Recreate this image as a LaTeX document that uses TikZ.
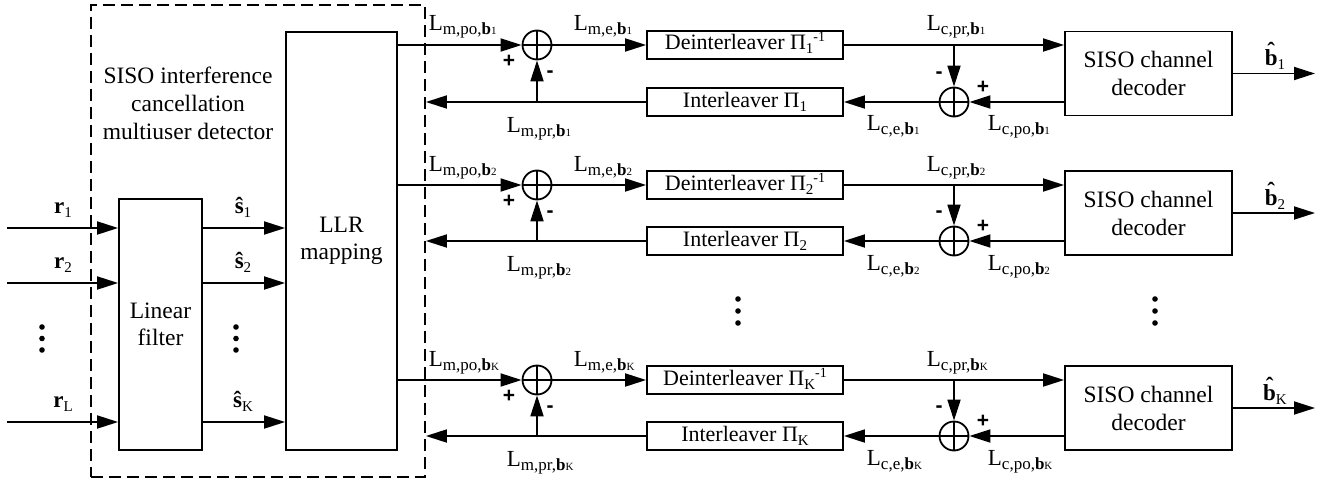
\documentclass[tikz,border=0pt]{standalone}
\usepackage{fontspec}
\setmainfont{Liberation Serif}
\newfontfamily\signfont{Liberation Sans}
\usetikzlibrary{arrows.meta}
\newcommand\mysub[1]{\raisebox{-4pt}{\fontsize{15}{15}\selectfont #1}}
\newcommand\mysup[1]{\raisebox{8pt}{\fontsize{14}{14}\selectfont #1}}
\newcommand\Lsig[3]{L\raisebox{-4pt}{\fontsize{17}{17}\selectfont #1,#2,\textbf{b}\fontsize{11}{11}\selectfont #3}}
\newcommand\bhat{\textbf{\ooalign{b\cr\hidewidth\raisebox{7pt}{ˆ}\hidewidth\cr}}}
\begin{document}
\begin{tikzpicture}[x=1pt,y=-1pt,
  font=\fontsize{23}{28}\selectfont,
  line width=1.8pt,
  blk/.style={draw, line width=1.8pt, inner sep=0pt, align=center},
  arr/.style={-{Triangle[length=21pt,width=13pt]}},
  sumnode/.style={circle, draw, minimum size=29pt, inner sep=0pt,
    path picture={\draw (path picture bounding box.north) -- (path picture bounding box.south)
                        (path picture bounding box.west) -- (path picture bounding box.east);}},
  lab/.style={anchor=base west, inner sep=0pt},
  clab/.style={anchor=base, inner sep=0pt},
  sign/.style={font=\signfont\bfseries\fontsize{21}{21}\selectfont, inner sep=0pt}]
\useasboundingbox (0,0) rectangle (1340,484);

% detector enclosure
\node[draw, dash pattern=on 12pt off 6pt, minimum width=334pt, minimum height=472pt, inner sep=0pt] (mud) at (258,241) {};
\node[align=center, font=\fontsize{23.5}{28}\selectfont] (mudlab) at (188,103) {SISO interference\\cancellation\\multiuser detector};

% linear filter and LLR mapping
\node[blk, minimum width=83pt, minimum height=251pt, font=\fontsize{23.5}{27}\selectfont] (lf) at (160.5,324.5) {Linear\\filter};
\node[blk, minimum width=111pt, minimum height=418pt, font=\fontsize{23.5}{27}\selectfont] (llr) at (341.5,241) {LLR\\mapping};

% inputs
\coordinate (r1) at (7,228);
\coordinate (r2) at (7,283);
\coordinate (rL) at (7,422);
\draw[arr] (r1) -- (r1 -| lf.west);
\draw[arr] (r2) -- (r2 -| lf.west);
\draw[arr] (rL) -- (rL -| lf.west);
\node[clab] (lr1) at (63,213) {\textbf{r}\mysub{1}};
\node[clab] (lr2) at (63,268) {\textbf{r}\mysub{2}};
\node[clab] (lrL) at (63,407) {\textbf{r}\mysub{L}};
\fill (42,327) circle (2.8pt) (42,338.5) circle (2.8pt) (42,350) circle (2.8pt);

% filter outputs
\draw[arr] (lf.east |- r1) -- (llr.west |- r1);
\draw[arr] (lf.east |- r2) -- (llr.west |- r2);
\draw[arr] (lf.east |- rL) -- (llr.west |- rL);
\node[clab] (ls1) at (243,213) {\textbf{ŝ}\mysub{1}};
\node[clab] (ls2) at (243,268) {\textbf{ŝ}\mysub{2}};
\node[clab] (lsK) at (243,407) {\textbf{ŝ}\mysub{K}};
\fill (236,327) circle (2.8pt) (236,338.5) circle (2.8pt) (236,350) circle (2.8pt);

% user rows
\foreach \i/\ym/\yf in {1/45/102, 2/185/241, K/380/436} {
  \pgfmathsetmacro\yd{(\ym+\yf)/2}
  \node[sumnode] (sa\i) at (537,\ym) {};
  \node[blk, minimum width=196pt, minimum height=28pt, text height=15pt, text depth=5pt, font=\fontsize{22}{26}\selectfont] (de\i) at (745,\ym) {Deinterleaver Π\mysub{\i}\mysup{-1}};
  \node[blk, minimum width=196pt, minimum height=28pt, text height=15pt, text depth=5pt, font=\fontsize{22}{26}\selectfont] (in\i) at (745,\yf) {Interleaver Π\mysub{\i}};
  \node[sumnode] (sb\i) at (954,\yf) {};
  \node[blk, minimum width=167pt, minimum height=84pt, font=\fontsize{23.5}{28}\selectfont] (dec\i) at (1148.5,\yd) {SISO channel\\decoder};
  \coordinate (out\i) at (1315,\yd);
  % forward path
  \draw[arr] (llr.east |- sa\i) -- (sa\i.west);
  \draw[arr] (sa\i.east) -- (de\i.west);
  \draw[arr] (de\i.east) -- (de\i.east -| dec\i.west);
  \draw[arr] (sb\i |- de\i.east) -- (sb\i.north);
  \draw[arr] (dec\i.east) -- (out\i);
  % feedback path
  \draw[arr] (sb\i -| dec\i.west) -- (sb\i.east);
  \draw[arr] (sb\i.west) -- (in\i.east);
  \draw[arr] (in\i.west) -- (in\i.west -| mud.east);
  \draw[arr] (sa\i |- in\i.west) -- (sa\i.south);
  % labels
  \node[lab] (lmpo\i) at (428,\ym-14) {\Lsig{m}{po}{\i}};
  \node[lab] (lme\i) at (573,\ym-14) {\Lsig{m}{e}{\i}};
  \node[lab] (lmpr\i) at (506,\yf+30) {\Lsig{m}{pr}{\i}};
  \node[lab] (lcpr\i) at (926,\ym-14) {\Lsig{c}{pr}{\i}};
  \node[lab] (lce\i) at (866,\yf+29) {\Lsig{c}{e}{\i}};
  \node[lab] (lcpo\i) at (987,\yf+29) {\Lsig{c}{po}{\i}};
  \node[clab] (lb\i) at (1275,\yd-8) {\bhat\mysub{\i}};
  \node[sign] (pa\i) at (509,\ym+16) {+};
  \node[sign] (ma\i) at (550,\ym+29) {-};
  \node[sign] (mb\i) at (939,\yf-27) {-};
  \node[sign] (pb\i) at (983,\yf-15) {+};
}
\fill (738,299) circle (2.8pt) (738,311) circle (2.8pt) (738,323) circle (2.8pt);
\fill (1155,299) circle (2.8pt) (1155,311) circle (2.8pt) (1155,323) circle (2.8pt);
\end{tikzpicture}
\end{document}
